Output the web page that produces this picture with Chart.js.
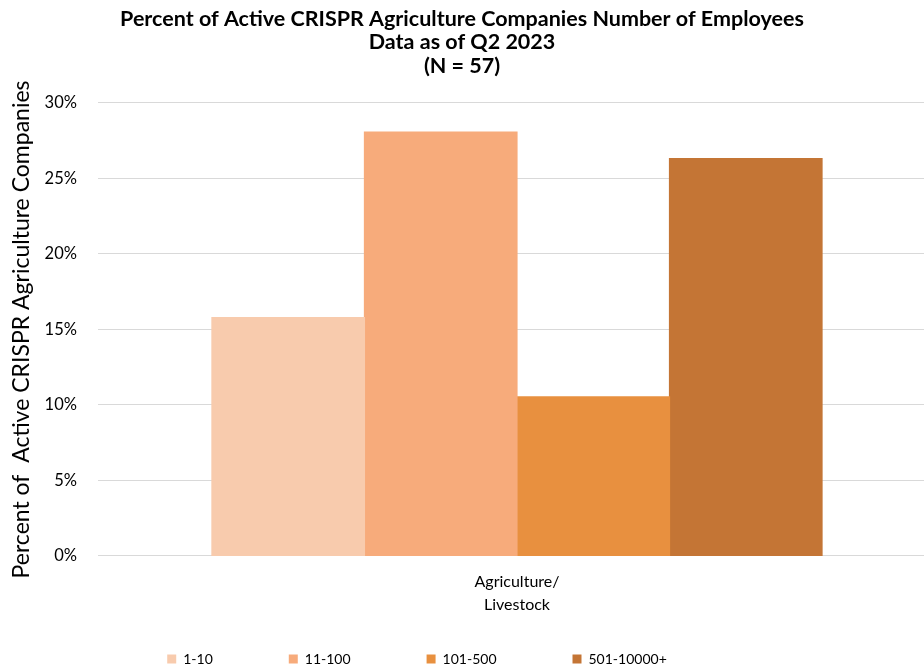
<!DOCTYPE html>
<html>
<head>
<meta charset="utf-8">
<script src="https://cdn.jsdelivr.net/npm/chart.js@4/dist/chart.umd.min.js"></script>
<style>
html,body{margin:0;padding:0;background:#fff;}
#wrap{width:924px;height:670px;position:relative;}
</style>
</head>
<body>
<div id="wrap"><canvas id="c" width="924" height="670"></canvas></div>
<script>
const categories = [['Agriculture/', 'Livestock']];
const seriesNames = ['1-10', '11-100', '101-500', '501-10000+'];
const series1_10 = [15.79];
const series11_100 = [28.07];
const series101_500 = [10.53];
const series501_10000 = [26.32];
const seriesColors = ['#F8CBAD', '#F7AB7B', '#E8903F', '#C47535'];
const yTicks = [0, 5, 10, 15, 20, 25, 30];

const FONT = "Lato, 'Open Sans', sans-serif";
const allValues = [series1_10, series11_100, series101_500, series501_10000];

// Layout helper: wide legend gaps without a tall legend box, plot area running past the right edge
const LEGEND_SHIFT = 52;
const LEGEND_YOFF = 6;
const LEGEND_XSHIFT = -45;
const TITLE_XSHIFT = 0;
const PLOT_RIGHT_EXTRA = 12;
const layoutTweaks = {
  id: 'layoutTweaks',
  beforeLayout(chart) {
    const lg = chart.legend;
    if (lg && !lg._wrappedFit) {
      const f = lg.fit;
      lg.fit = function () { f.call(this); this.height -= LEGEND_SHIFT; };
      lg._wrappedFit = true;
    }
  },
  afterLayout(chart) {
    const lg = chart.legend;
    if (lg) {
      lg.top += LEGEND_YOFF - LEGEND_SHIFT;
      lg.left += LEGEND_XSHIFT;
      lg.right += LEGEND_XSHIFT;
    }
    const tb = chart.titleBlock;
    if (tb) {
      tb.left += TITLE_XSHIFT;
      tb.right += TITLE_XSHIFT;
    }
    const xs = chart.scales.x;
    if (xs) {
      xs.right += PLOT_RIGHT_EXTRA;
      xs.width += PLOT_RIGHT_EXTRA;
      xs.configure();
    }
  }
};

new Chart(document.getElementById('c'), {
  type: 'bar',
  data: {
    labels: categories,
    datasets: seriesNames.map((n, i) => ({
      label: n,
      data: allValues[i],
      backgroundColor: seriesColors[i],
      borderWidth: 0,
      inflateAmount: 0.6,
      barPercentage: 1.0,
      categoryPercentage: 0.728
    }))
  },
  plugins: [layoutTweaks],
  options: {
    responsive: false,
    animation: false,
    layout: { padding: { left: 0, right: 0, top: 0, bottom: 0 } },
    plugins: {
      title: {
        display: true,
        text: ['Percent of Active CRISPR Agriculture Companies Number of Employees', 'Data as of Q2 2023', '(N = 57)'],
        font: { family: FONT, size: 21.5, weight: 'bold', lineHeight: 1.1 },
        color: '#000',
        padding: { top: 7, bottom: 25 }
      },
      legend: {
        position: 'bottom',
        labels: {
          font: { family: FONT, size: 14 },
          color: '#000',
          boxWidth: 9,
          boxHeight: 9,
          padding: 76
        }
      },
      tooltip: { enabled: false }
    },
    scales: {
      x: {
        grid: { display: false },
        border: { display: false },
        ticks: { font: { family: FONT, size: 16, lineHeight: 1.44 }, color: '#000', padding: 6 }
      },
      y: {
        min: 0,
        max: 30,
        afterBuildTicks: (ax) => { ax.ticks = yTicks.map(v => ({ value: v })); },
        grid: { color: '#D9D9D9', lineWidth: 1, drawTicks: false },
        border: { display: false },
        ticks: {
          font: { family: FONT, size: 16.5 },
          color: '#000',
          padding: 21,
          callback: v => v + '%'
        },
        title: {
          display: true,
          text: 'Percent of  Active CRISPR Agriculture Companies',
          font: { family: FONT, size: 23 },
          color: '#000',
          padding: { top: 8, bottom: -12 }
        }
      }
    }
  }
});
</script>
</body>
</html>
